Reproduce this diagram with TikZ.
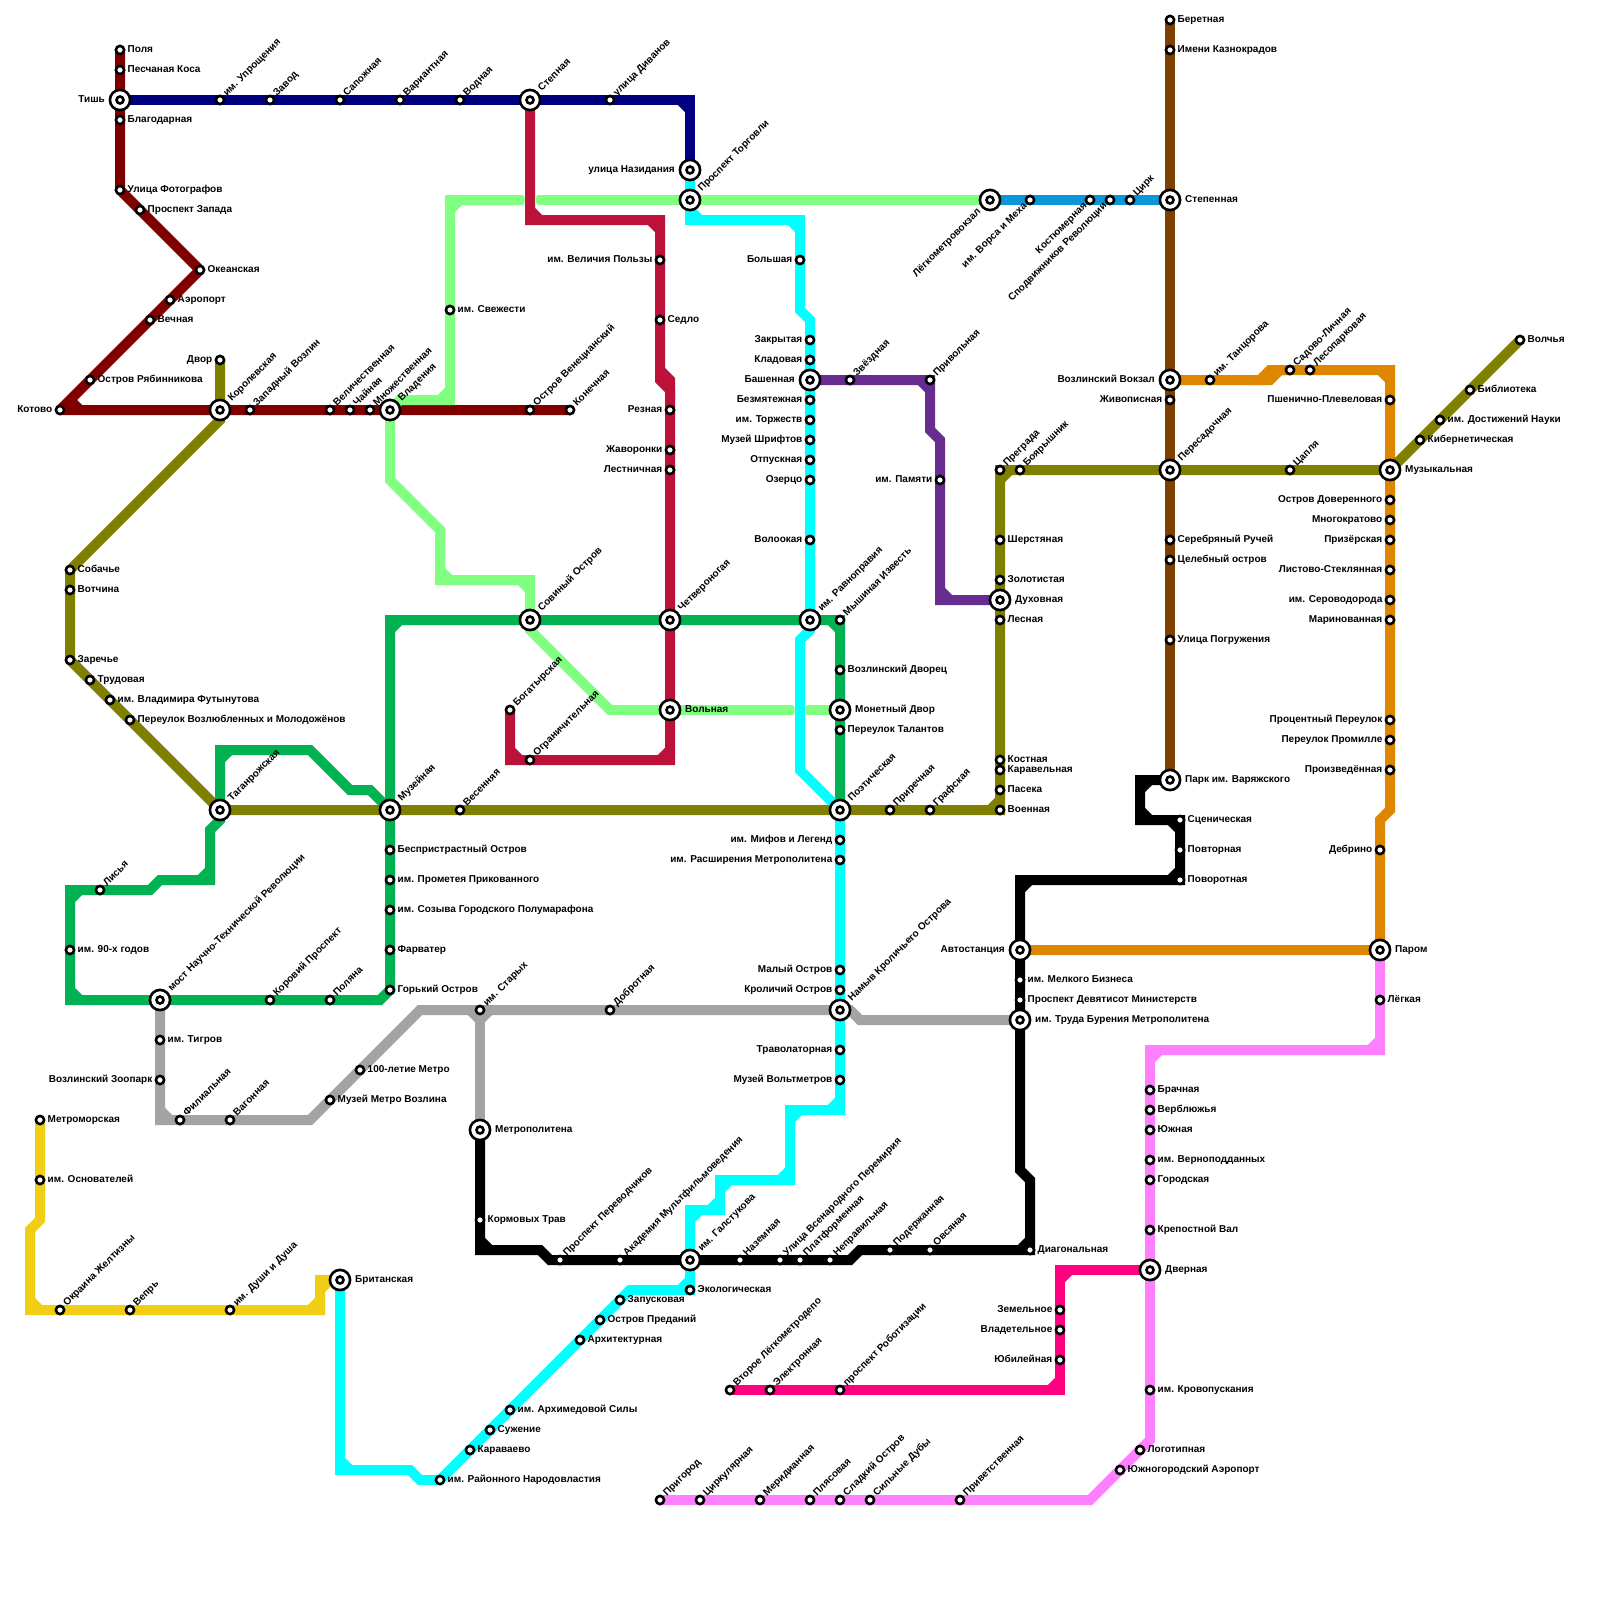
\documentclass[tikz,border=0pt]{standalone}
\usepackage{fontspec}
\setmainfont{Liberation Sans}
\pgfdeclarelayer{bg}
\pgfsetlayers{bg,main}
\definecolor{dred}{HTML}{800000}
\definecolor{navyl}{HTML}{000080}
\definecolor{crim}{HTML}{BC1239}
\definecolor{lgreen}{HTML}{80FF80}
\definecolor{skyb}{HTML}{0A96D8}
\definecolor{brownl}{HTML}{804000}
\definecolor{orangel}{HTML}{DF8600}
\definecolor{pinkl}{HTML}{FF80FF}
\definecolor{hotp}{HTML}{FF0080}
\definecolor{purp}{HTML}{662C90}
\definecolor{oliv}{HTML}{808000}
\definecolor{greenl}{HTML}{00B251}
\definecolor{greyl}{HTML}{A3A3A3}
\definecolor{cyanl}{HTML}{00FFFF}
\definecolor{yell}{HTML}{F0CE15}
\newcommand{\lblfont}{\fontsize{10}{12}\selectfont\bfseries}
\tikzset{
  ln/.style={line width=10pt,line join=miter,miter limit=2,line cap=butt},
  stn/.style={circle,draw=black,fill=white,line width=2.6pt,inner sep=0pt,outer sep=0pt,minimum size=8.2pt},
  xouter/.style={circle,draw=black,fill=white,line width=2.6pt,inner sep=0pt,outer sep=0pt,minimum size=20.2pt},
  xinner/.style={circle,draw=black,fill=white,line width=2.6pt,inner sep=0pt,outer sep=0pt,minimum size=7pt},
  lbl/.style={font=\lblfont,inner sep=0pt,text=black,text height=7.2pt,text depth=2.1pt},
  labr/.style={xshift=7.5pt,anchor=west},
  labl/.style={xshift=-7.5pt,anchor=east},
  labu/.style={xshift=5.2pt,yshift=5.2pt,rotate=45,anchor=west},
  labd/.style={xshift=-4.5pt,yshift=-4.5pt,rotate=45,anchor=east},
  labxr/.style={xshift=15pt,anchor=west},
  labxl/.style={xshift=-15pt,anchor=east},
  labxu/.style={xshift=10pt,yshift=10pt,rotate=45,anchor=west},
  labxd/.style={xshift=-10.5pt,yshift=-10.5pt,rotate=45,anchor=east},
}
\newcommand{\st}[5]{\node[stn] (#1) at (#2,#3) {};\node[lbl,lab#4] (#1-l) at (#1.center) {#5};}
\newcommand{\xst}[5]{\node[xouter] (#1) at (#2,#3) {};\node[xinner] (#1-i) at (#1.center) {};\node[lbl,labx#4] (#1-l) at (#1.center) {#5};}
\newcommand{\chamf}[2]{\foreach \cx/\cy/\ca/\cb in {#2} {\draw[ln,#1] ({\cx+10*\ca},\cy) -- (\cx,{\cy+10*\cb});}}
\begin{document}
\begin{tikzpicture}[x=1pt,y=-1pt]
\useasboundingbox (0,0) rectangle (1600,1600);
% dark red
\st{polya}{120}{50}{r}{Поля}
\st{peschanaya}{120}{70}{r}{Песчаная Коса}
\xst{tish}{120}{100}{l}{Тишь}
\st{blagodar}{120}{120}{r}{Благодарная}
\st{fotograf}{120}{190}{r}{Улица Фотографов}
\st{zapada}{140}{210}{r}{Проспект Запада}
\st{okean}{200}{270}{r}{Океанская}
\st{aeroport}{170}{300}{r}{Аэропорт}
\st{vechnaya}{150}{320}{r}{Вечная}
\st{ryabin}{90}{380}{r}{Остров Рябинникова}
\st{kotovo}{60}{410}{l}{Котово}
\xst{korol}{220}{410}{u}{Королевская}
\st{zapvoz}{250}{410}{u}{Западный Возлин}
\st{velich}{330}{410}{u}{Величественная}
\st{chainaya}{350}{410}{u}{Чайная}
\st{mnozh}{370}{410}{u}{Множественная}
\xst{vladen}{390}{410}{u}{Владения}
\st{venets}{530}{410}{u}{Остров Венецианский}
\st{konech}{570}{410}{u}{Конечная}
% navy
\st{uprosh}{220}{100}{u}{им. Упрощения}
\st{zavod}{270}{100}{u}{Завод}
\st{sapozh}{340}{100}{u}{Сапожная}
\st{variant}{400}{100}{u}{Вариантная}
\st{vodnaya}{460}{100}{u}{Водная}
\xst{stepnaya}{530}{100}{u}{Степная}
\st{divanov}{610}{100}{u}{улица Диванов}
\xst{nazid}{690}{170}{l}{улица Назидания}
\xst{torgovli}{690}{200}{u}{Проспект Торговли}
% light green
\st{svezh}{450}{310}{r}{им. Свежести}
\xst{sovin}{530}{620}{u}{Совиный Остров}
\xst{volnaya}{670}{710}{r}{Вольная}
\xst{monet}{840}{710}{r}{Монетный Двор}
\xst{legkom}{990}{200}{d}{Лёгкометровокзал}
% blue
\st{vorsa}{1030}{200}{d}{им. Ворса и Меха}
\st{kostyum}{1090}{200}{d}{Костюмерная}
\st{spodv}{1110}{200}{d}{Сподвижников Революции}
\st{tsirk}{1130}{200}{u}{Цирк}
\xst{stepen}{1170}{200}{r}{Степенная}
% brown
\st{beret}{1170}{20}{r}{Беретная}
\st{kaznok}{1170}{50}{r}{Имени Казнокрадов}
\xst{vokzal}{1170}{380}{l}{Возлинский Вокзал}
\st{zhivop}{1170}{400}{l}{Живописная}
\xst{peresad}{1170}{470}{u}{Пересадочная}
\st{serebr}{1170}{540}{r}{Серебряный Ручей}
\st{tseleb}{1170}{560}{r}{Целебный остров}
\st{pogruzh}{1170}{640}{r}{Улица Погружения}
\xst{varyazh}{1170}{780}{r}{Парк им. Варяжского}
% orange
\st{tants}{1210}{380}{u}{им. Танцорова}
\st{sadovo}{1290}{370}{u}{Садово-Личная}
\st{lesop}{1310}{370}{u}{Лесопарковая}
\st{pshen}{1390}{400}{l}{Пшенично-Плевеловая}
\xst{muzyk}{1390}{470}{r}{Музыкальная}
\st{dover}{1390}{500}{l}{Остров Доверенного}
\st{mnogo}{1390}{520}{l}{Многократово}
\st{prizer}{1390}{540}{l}{Призёрская}
\st{listovo}{1390}{570}{l}{Листово-Стеклянная}
\st{serov}{1390}{600}{l}{им. Сероводорода}
\st{marin}{1390}{620}{l}{Маринованная}
\st{protsent}{1390}{720}{l}{Процентный Переулок}
\st{promil}{1390}{740}{l}{Переулок Промилле}
\st{proizv}{1390}{770}{l}{Произведённая}
\st{debrino}{1380}{850}{l}{Дебрино}
\xst{parom}{1380}{950}{r}{Паром}
\xst{avtost}{1020}{950}{l}{Автостанция}
% pink
\st{legkaya}{1380}{1000}{r}{Лёгкая}
\st{brach}{1150}{1090}{r}{Брачная}
\st{verbl}{1150}{1110}{r}{Верблюжья}
\st{yuzhn}{1150}{1130}{r}{Южная}
\st{vernop}{1150}{1160}{r}{им. Верноподданных}
\st{gorod}{1150}{1180}{r}{Городская}
\st{krepost}{1150}{1230}{r}{Крепостной Вал}
\xst{dvern}{1150}{1270}{r}{Дверная}
\st{krovop}{1150}{1390}{r}{им. Кровопускания}
\st{logot}{1140}{1450}{r}{Логотипная}
\st{yuzhaero}{1120}{1470}{r}{Южногородский Аэропорт}
\st{prigorod}{660}{1500}{u}{Пригород}
\st{tsirkul}{700}{1500}{u}{Циркулярная}
\st{merid}{760}{1500}{u}{Меридианная}
\st{plyas}{810}{1500}{u}{Плясовая}
\st{sladk}{840}{1500}{u}{Сладкий Остров}
\st{silnye}{870}{1500}{u}{Сильные Дубы}
\st{privet}{960}{1500}{u}{Приветственная}
% hot pink
\st{zemel}{1060}{1310}{l}{Земельное}
\st{vladet}{1060}{1330}{l}{Владетельное}
\st{yubil}{1060}{1360}{l}{Юбилейная}
\st{vtoroe}{730}{1390}{u}{Второе Лёгкометродепо}
\st{elektr}{770}{1390}{u}{Электронная}
\st{robot}{840}{1390}{u}{проспект Роботизации}
% purple
\xst{bashen}{810}{380}{l}{Башенная}
\st{zvezd}{850}{380}{u}{Звёздная}
\st{privol}{930}{380}{u}{Привольная}
\st{pamyat}{940}{480}{l}{им. Памяти}
\xst{dukhov}{1000}{600}{r}{Духовная}
% olive
\st{dvor}{220}{360}{l}{Двор}
\st{sobach}{70}{570}{r}{Собачье}
\st{votch}{70}{590}{r}{Вотчина}
\st{zarech}{70}{660}{r}{Заречье}
\st{trud}{90}{680}{r}{Трудовая}
\st{futyn}{110}{700}{r}{им. Владимира Футынутова}
\st{vozlub}{130}{720}{r}{Переулок Возлюбленных и Молодожёнов}
\xst{taganr}{220}{810}{u}{Таганрожская}
\xst{muzey}{390}{810}{u}{Музейная}
\st{vesen}{460}{810}{u}{Весенняя}
\xst{poet}{840}{810}{u}{Поэтическая}
\st{prirech}{890}{810}{u}{Приречная}
\st{grafsk}{930}{810}{u}{Графская}
\st{voen}{1000}{810}{r}{Военная}
\st{paseka}{1000}{790}{r}{Пасека}
\st{karavel}{1000}{770}{r}{Каравельная}
\st{kostn}{1000}{760}{r}{Костная}
\st{lesn}{1000}{620}{r}{Лесная}
\st{zolot}{1000}{580}{r}{Золотистая}
\st{sherst}{1000}{540}{r}{Шерстяная}
\st{pregr}{1000}{470}{u}{Преграда}
\st{boyar}{1020}{470}{u}{Боярышник}
\st{tsaplya}{1290}{470}{u}{Цапля}
\st{kiber}{1420}{440}{r}{Кибернетическая}
\st{dostizh}{1440}{420}{r}{им. Достижений Науки}
\st{bibl}{1470}{390}{r}{Библиотека}
\st{volch}{1520}{340}{r}{Волчья}
% green
\xst{ravnopr}{810}{620}{u}{им. Равноправия}
\xst{chetv}{670}{620}{u}{Четвероногая}
\st{myshin}{840}{620}{u}{Мышиная Известь}
\st{dvorets}{840}{670}{r}{Возлинский Дворец}
\st{talant}{840}{730}{r}{Переулок Талантов}
\st{bespr}{390}{850}{r}{Беспристрастный Остров}
\st{promet}{390}{880}{r}{им. Прометея Прикованного}
\st{sozyv}{390}{910}{r}{им. Созыва Городского Полумарафона}
\st{farvat}{390}{950}{r}{Фарватер}
\st{gorkiy}{390}{990}{r}{Горький Остров}
\st{polyana}{330}{1000}{u}{Поляна}
\st{korov}{270}{1000}{u}{Коровий Проспект}
\xst{most}{160}{1000}{u}{мост Научно-Технической Революции}
\st{devyanost}{70}{950}{r}{им. 90-х годов}
\st{lisya}{100}{890}{u}{Лисья}
% grey
\st{tigrov}{160}{1040}{r}{им. Тигров}
\st{zoopark}{160}{1080}{l}{Возлинский Зоопарк}
\st{filial}{180}{1120}{u}{Филиальная}
\st{vagon}{230}{1120}{u}{Вагонная}
\st{muzmetro}{330}{1100}{r}{Музей Метро Возлина}
\st{stolet}{360}{1070}{r}{100-летие Метро}
\st{starykh}{480}{1010}{u}{им. Старых}
\st{dobrot}{610}{1010}{u}{Добротная}
\xst{namyv}{840}{1010}{u}{Намыв Кроличьего Острова}
\xst{truda}{1020}{1020}{r}{им. Труда Бурения Метрополитена}
\xst{metropol}{480}{1130}{r}{Метрополитена}
% black
\st{kormov}{480}{1220}{r}{Кормовых Трав}
\st{perevod}{560}{1260}{u}{Проспект Переводчиков}
\st{akadem}{620}{1260}{u}{Академия Мультфильмоведения}
\xst{galst}{690}{1260}{u}{им. Галстукова}
\st{nazem}{740}{1260}{u}{Наземная}
\st{vsenar}{780}{1260}{u}{Улица Всенародного Перемирия}
\st{platf}{800}{1260}{u}{Платформенная}
\st{neprav}{830}{1260}{u}{Неправильная}
\st{poderzh}{890}{1250}{u}{Подержанная}
\st{ovsyan}{930}{1250}{u}{Овсяная}
\st{diagon}{1030}{1250}{r}{Диагональная}
\st{melk}{1020}{980}{r}{им. Мелкого Бизнеса}
\st{devyatis}{1020}{1000}{r}{Проспект Девятисот Министерств}
\st{scen}{1180}{820}{r}{Сценическая}
\st{povtor}{1180}{850}{r}{Повторная}
\st{povorot}{1180}{880}{r}{Поворотная}
% cyan
\st{bolsh}{800}{260}{l}{Большая}
\st{zakr}{810}{340}{l}{Закрытая}
\st{klad}{810}{360}{l}{Кладовая}
\st{bezm}{810}{400}{l}{Безмятежная}
\st{torzh}{810}{420}{l}{им. Торжеств}
\st{shrift}{810}{440}{l}{Музей Шрифтов}
\st{otpusk}{810}{460}{l}{Отпускная}
\st{ozerts}{810}{480}{l}{Озерцо}
\st{volook}{810}{540}{l}{Волоокая}
\st{mifov}{840}{840}{l}{им. Мифов и Легенд}
\st{rasshir}{840}{860}{l}{им. Расширения Метрополитена}
\st{maly}{840}{970}{l}{Малый Остров}
\st{krolich}{840}{990}{l}{Кроличий Остров}
\st{travol}{840}{1050}{l}{Траволаторная}
\st{voltm}{840}{1080}{l}{Музей Вольтметров}
\st{ekol}{690}{1290}{r}{Экологическая}
\st{zapusk}{620}{1300}{r}{Запусковая}
\st{predan}{600}{1320}{r}{Остров Преданий}
\st{arkhit}{580}{1340}{r}{Архитектурная}
\st{arkhim}{510}{1410}{r}{им. Архимедовой Силы}
\st{suzh}{490}{1430}{r}{Сужение}
\st{karav}{470}{1450}{r}{Караваево}
\st{rayon}{440}{1480}{r}{им. Районного Народовластия}
\xst{britan}{340}{1280}{r}{Британская}
% yellow
\st{metromor}{40}{1120}{r}{Метроморская}
\st{osnov}{40}{1180}{r}{им. Основателей}
\st{zheltiz}{60}{1310}{u}{Окраина Желтизны}
\st{vepr}{130}{1310}{u}{Вепрь}
\st{dushi}{230}{1310}{u}{им. Души и Душа}
% crimson
\st{velichiya}{660}{260}{l}{им. Величия Пользы}
\st{sedlo}{660}{320}{r}{Седло}
\st{reznaya}{670}{410}{l}{Резная}
\st{zhavor}{670}{450}{l}{Жаворонки}
\st{lestn}{670}{470}{l}{Лестничная}
\st{bogat}{510}{710}{u}{Богатырская}
\st{ogran}{530}{760}{u}{Ограничительная}
\begin{pgfonlayer}{bg}
\fill[white] (0,0) rectangle (1600,1600);
% lines
\draw[ln,brownl] (beret.center) -- (varyazh.center);
\draw[ln,skyb] (legkom.center) -- (stepen.center);
\draw[ln,dred,line join=bevel] (polya.center) -- (fotograf.center) -- (okean.center) -- (kotovo.center) -- (konech.center);
\draw[ln,dred] (70,400) -- (80,410);
\draw[ln,navyl] (tish.center) -- (690,100) -- (nazid.center);
\chamf{navyl}{690/100/-1/1}
\draw[ln,crim] (stepnaya.center) -- (530,220) -- (660,220) -- (660,370) -- (670,380) -- (670,760) -- (510,760) -- (bogat.center);
\draw[ln,crim] (660,370) -- (660,380) -- (670,390) -- (670,400);
\chamf{crim}{530/220/1/-1,660/220/-1/1,670/760/-1/-1,510/760/1/-1}
\draw[ln,lgreen] (vladen.center) -- (400,400) -- (450,400) -- (450,200) -- (518,200);
\draw[ln,lgreen] (vladen.center) -- (390,480) -- (440,530) -- (440,580) -- (530,580) -- (sovin.center) -- (530,630) -- (610,710) -- (volnaya.center) -- (790,710);
\draw[ln,lgreen] (542,200) -- (torgovli.center) -- (legkom.center);
\draw[ln,lgreen] (811,710) -- (monet.center);
\chamf{lgreen}{450/400/-1/-1,450/200/1/1,440/580/1/-1,530/580/-1/1}
\fill[lgreen,rounded corners=2.5pt] (515,195) rectangle (524.5,205);
\fill[lgreen,rounded corners=2.5pt] (536,195) rectangle (545,205);
\fill[lgreen,rounded corners=2.5pt] (785,705) rectangle (794.5,715);
\fill[lgreen,rounded corners=2.5pt] (805.5,705) rectangle (815,715);
\draw[ln,orangel] (vokzal.center) -- (1260,380) -- (1270,370) -- (1390,370) -- (1390,810) -- (1380,820) -- (parom.center) -- (avtost.center);
\draw[ln,orangel] (1250,380) -- (1270,380) -- (1280,370) -- (1290,370);
\chamf{orangel}{1390/370/-1/1}
\draw[ln,pinkl] (parom.center) -- (1380,1050) -- (1150,1050) -- (1150,1440) -- (1090,1500) -- (prigorod.center);
\chamf{pinkl}{1380/1050/-1/-1,1150/1050/1/1}
\draw[ln,hotp] (dvern.center) -- (1060,1270) -- (1060,1390) -- (vtoroe.center);
\chamf{hotp}{1060/1270/1/1,1060/1390/-1/-1}
\draw[ln,purp] (bashen.center) -- (930,380) -- (930,430) -- (940,440) -- (940,600) -- (dukhov.center);
\chamf{purp}{930/380/-1/1,940/600/1/-1}
\draw[ln,oliv] (dvor.center) -- (220,420) -- (sobach.center) -- (zarech.center) -- (taganr.center) -- (1000,810) -- (1000,470) -- (muzyk.center) -- (volch.center);
\chamf{oliv}{1000/810/-1/-1,1000/470/1/1}
\draw[ln,greenl] (poet.center) -- (840,620) -- (390,620) -- (390,990) -- (380,1000) -- (70,1000) -- (70,890) -- (150,890) -- (160,880) -- (210,880) -- (210,830) -- (220,820) -- (taganr.center) -- (220,750) -- (310,750) -- (350,790) -- (370,790) -- (muzey.center);
\chamf{greenl}{840/620/-1/1,390/620/1/1,70/1000/1/-1,70/890/1/1,210/880/-1/-1,220/750/1/1}
\draw[ln,greyl] (most.center) -- (160,1120) -- (310,1120) -- (420,1010) -- (namyv.center) -- (850,1010) -- (860,1020) -- (truda.center);
\draw[ln,greyl] (starykh.center) -- (metropol.center);
\chamf{greyl}{160/1120/1/-1,480/1010/-1/1,480/1010/1/1}
\draw[ln,black] (metropol.center) -- (480,1250) -- (540,1250) -- (550,1260) -- (850,1260) -- (860,1250) -- (1030,1250) -- (1030,1180) -- (1020,1170) -- (1020,880) -- (1180,880) -- (1180,820) -- (1140,820) -- (1140,780) -- (varyazh.center);
\chamf{black}{480/1250/1/-1,1030/1250/-1/-1,1020/880/1/1,1180/880/-1/-1,1180/820/-1/1,1140/820/1/-1,1140/780/1/1}
\draw[ln,cyanl] (nazid.center) -- (690,220) -- (800,220) -- (800,310) -- (810,320) -- (810,630) -- (800,640) -- (800,770) -- (840,810) -- (840,1110) -- (790,1110) -- (790,1180) -- (720,1180) -- (720,1210) -- (690,1210) -- (690,1290) -- (630,1290) -- (rayon.center) -- (420,1480) -- (410,1470) -- (340,1470) -- (britan.center);
\chamf{cyanl}{690/220/1/-1,800/220/-1/1,840/1110/-1/-1,790/1110/1/1,790/1180/-1/-1,720/1180/1/1,720/1210/-1/-1,690/1210/1/1,690/1290/-1/-1,340/1470/1/-1}
\draw[ln,yell] (metromor.center) -- (40,1220) -- (30,1230) -- (30,1310) -- (320,1310) -- (320,1280) -- (britan.center);
\chamf{yell}{30/1310/1/-1,320/1310/-1/-1,320/1280/1/1}
\end{pgfonlayer}
\end{tikzpicture}
\end{document}
